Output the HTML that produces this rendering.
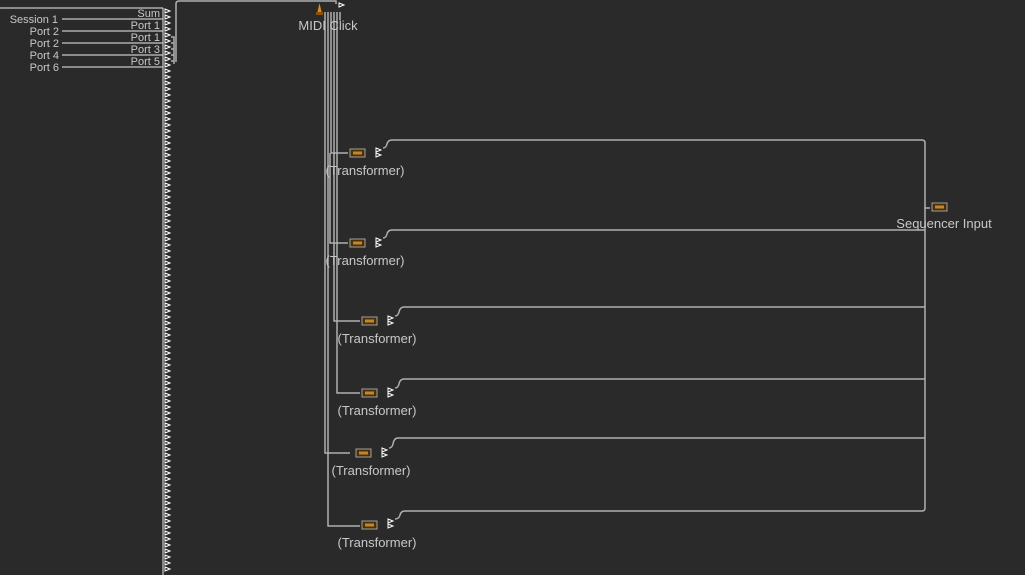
<!DOCTYPE html>
<html><head><style>
html,body{margin:0;padding:0;background:#2a2a2a;width:1025px;height:575px;overflow:hidden}
svg{display:block}
text{font-family:"Liberation Sans",sans-serif;fill:#c8c8c8}
</style></head><body>
<svg id="s" width="1025" height="575" viewBox="0 0 1025 575">
<rect width="1025" height="575" fill="#2a2a2a"/>
<g stroke="#c8c8c8" stroke-width="1.2" fill="none">
<line x1="0" y1="8" x2="163" y2="8"/>
<line x1="62" y1="19" x2="163" y2="19"/>
<line x1="62" y1="31" x2="163" y2="31"/>
<line x1="62" y1="43" x2="163" y2="43"/>
<line x1="62" y1="55" x2="163" y2="55"/>
<line x1="62" y1="67" x2="163" y2="67"/>
<line x1="163" y1="8" x2="163" y2="575"/>
</g>
<g stroke="#b0b0b0" stroke-width="1.5" fill="none">
<path d="M171 37 H174 V64"/>
<path d="M171 43 H174"/><path d="M171 49 H174"/><path d="M171 55 H174"/><path d="M171 61 H174"/>
<path d="M176 62 V4 Q176 1 179 1 H336 V4"/>
<path d="M325 12 V453 H350"/>
<path d="M328 12 V526 H360"/>
<path d="M331 12 V153 H348"/>
<path d="M330 153 V243 H348"/>
<path d="M334 12 V321 H360"/>
<path d="M337 12 V393 H360"/>
<path d="M340 12 V20"/>
<path d="M383 148 Q386 148 387 144 Q388 140 392 140 H922 Q925 140 925 143 V508 Q925 511 922 511 H405 Q401 511 400 515 Q399 519 395 519"/>
<path d="M383 238 Q386 238 387 234 Q388 230 392 230 H925"/>
<path d="M395 316 Q398 316 399 312 Q400 307 404 307 H925"/>
<path d="M395 388 Q398 388 399 384 Q400 379 404 379 H925"/>
<path d="M389 448 Q392 448 393 444 Q394 438 398 438 H925"/>
<path d="M925 208 H930"/>
</g>
<g id="tri" fill="none" stroke="#ffffff" stroke-width="1"></g>
<g font-size="11" text-anchor="end">
<text x="58" y="23">Session 1</text>
<text x="59" y="35">Port 2</text>
<text x="59" y="47">Port 2</text>
<text x="59" y="59">Port 4</text>
<text x="59" y="71">Port 6</text>
<text x="160" y="17">Sum</text>
<text x="160" y="29">Port 1</text>
<text x="160" y="41">Port 1</text>
<text x="160" y="53">Port 3</text>
<text x="160" y="65">Port 5</text>
</g>
<g font-size="13" text-anchor="middle">
<text x="328" y="30">MIDI Click</text>
<text x="365" y="175">(Transformer)</text>
<text x="365" y="265">(Transformer)</text>
<text x="377" y="343">(Transformer)</text>
<text x="377" y="415">(Transformer)</text>
<text x="371" y="475">(Transformer)</text>
<text x="377" y="547">(Transformer)</text>
<text x="944" y="228">Sequencer Input</text>
</g>
<path d="M317 14 L319.5 3 L322 14 Z" fill="#e08a20"/>
<rect x="316" y="12" width="7" height="3" fill="#8a5010"/>
<g id="icons"></g>
</svg>
<script>
var ns="http://www.w3.org/2000/svg",t=document.getElementById("tri"),ic=document.getElementById("icons");
function tr(x,y){var p=document.createElementNS(ns,"path");p.setAttribute("d","M"+x+" "+(y-2)+" L"+(x+5)+" "+y+" L"+x+" "+(y+2)+" Z");t.appendChild(p);}
for(var y=11;y<575;y+=6)tr(165,y);
tr(339,5);
[[376,150],[376,155],[376,240],[376,245],[388,318],[388,323],[388,390],[388,395],[382,450],[382,455],[388,521],[388,526]].forEach(function(a){tr(a[0],a[1]);});
function icon(x,y){var r=document.createElementNS(ns,"rect");r.setAttribute("x",x);r.setAttribute("y",y);r.setAttribute("width",15);r.setAttribute("height",8);r.setAttribute("fill","#4a3008");r.setAttribute("stroke","#a0a0a0");r.setAttribute("stroke-width","1");ic.appendChild(r);
var q=document.createElementNS(ns,"rect");q.setAttribute("x",x+3);q.setAttribute("y",y+2.5);q.setAttribute("width",9);q.setAttribute("height",3);q.setAttribute("fill","#c08828");ic.appendChild(q);}
[[350,149],[350,239],[362,317],[362,389],[356,449],[362,521],[932,203]].forEach(function(a){icon(a[0],a[1]);});
</script>
</body></html>
